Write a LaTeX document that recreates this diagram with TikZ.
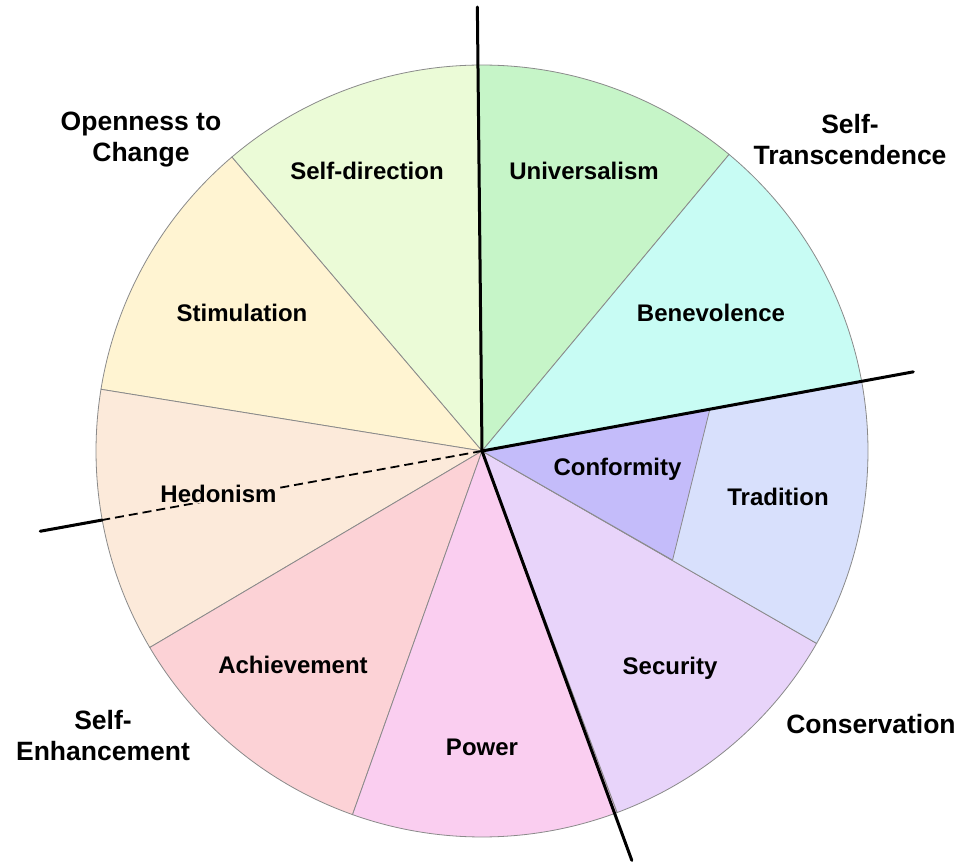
\documentclass[tikz,border=0pt]{standalone}
\usepackage{fontspec}
\setmainfont{Liberation Sans}
\usetikzlibrary{calc}
\definecolor{cUN}{HTML}{C6F5C8}
\definecolor{cSD}{HTML}{EBFBD7}
\definecolor{cST}{HTML}{FFF4D2}
\definecolor{cHE}{HTML}{FCEADA}
\definecolor{cAC}{HTML}{FCD2D6}
\definecolor{cPO}{HTML}{FACEF0}
\definecolor{cSE}{HTML}{E8D4FA}
\definecolor{cTR}{HTML}{D8E0FC}
\definecolor{cCO}{HTML}{C4BCFA}
\definecolor{cBE}{HTML}{C8FCF4}
\definecolor{gridgray}{HTML}{8A8A8A}
\newcommand{\pieseg}[3]{\filldraw[sector, fill=#3] (C) -- ($(C)+(#1:386pt)$) arc[start angle=#1, end angle=#2, radius=386pt] -- cycle;}
\begin{document}
\begin{tikzpicture}[x=1pt,y=1pt,
  sector/.style={draw=gridgray, line width=0.8pt},
  divider/.style={line width=3pt, line cap=round, draw=black},
  hedash/.style={line width=1.8pt, dash pattern=on 9pt off 5pt, draw=black},
  lbl/.style={font=\fontsize{24}{30}\selectfont\bfseries, align=center, inner sep=0pt},
  grp/.style={font=\fontsize{26.5}{31}\selectfont\bfseries, align=center, inner sep=0pt}]
\useasboundingbox (0,0) rectangle (977,863);
\coordinate (C) at (482,412);
% sectors
\pieseg{50.2}{90.6}{cUN}
\pieseg{90.6}{130.4}{cSD}
\pieseg{130.4}{170.8}{cST}
\pieseg{170.8}{210.6}{cHE}
\pieseg{210.6}{250.4}{cAC}
\pieseg{250.4}{290.5}{cPO}
\pieseg{290.5}{330.1}{cSE}
\pieseg{-29.9}{10.3}{cTR}
\pieseg{10.3}{50.2}{cBE}
% conformity inner wedge
\coordinate (coA) at ($(C)+(10.3:231.5pt)$);
\coordinate (coB) at ($(C)+(-29.8:219.6pt)$);
\filldraw[sector, fill=cCO] (C) -- (coA) -- (coB) -- cycle;
% dividing axes
\coordinate (topEnd) at ($(C)+(90.6:444pt)$);
\coordinate (rightEnd) at ($(C)+(10.4:438.5pt)$);
\coordinate (botEnd) at ($(C)+(-69.9:436pt)$);
\coordinate (heRim) at ($(C)+(190.3:386pt)$);
\coordinate (heEnd) at ($(C)+(190.3:449pt)$);
\draw[hedash] (C) -- (heRim);
\draw[divider] (heRim) -- (heEnd);
\draw[divider] (C) -- (topEnd);
\draw[divider] (C) -- (rightEnd);
\draw[divider] (C) -- (botEnd);
% value labels
\node[lbl] (un) at (584,692) {Universalism};
\node[lbl] (sd) at (367,692) {Self-direction};
\node[lbl] (st) at (242,550) {Stimulation};
\node[lbl, fill=cHE] (he) at (218.5,369) {Hedonism};
\node[lbl] (ac) at (293,198) {Achievement};
\node[lbl] (po) at (482,116) {Power};
\node[lbl] (se) at (670,195) {Security};
\node[lbl] (tr) at (778,366) {Tradition};
\node[lbl] (co) at (617.5,394) {Conformity};
\node[lbl] (be) at (711,550) {Benevolence};
% higher-order labels
\node[grp] (otc) at (141,723) {Openness to\\Change};
\node[grp] (str) at (850,723) {Self-\\Transcendence};
\node[grp] (cons) at (871,139) {Conservation};
\node[grp] (senh) at (103,127.5) {Self-\\Enhancement};
\end{tikzpicture}
\end{document}
